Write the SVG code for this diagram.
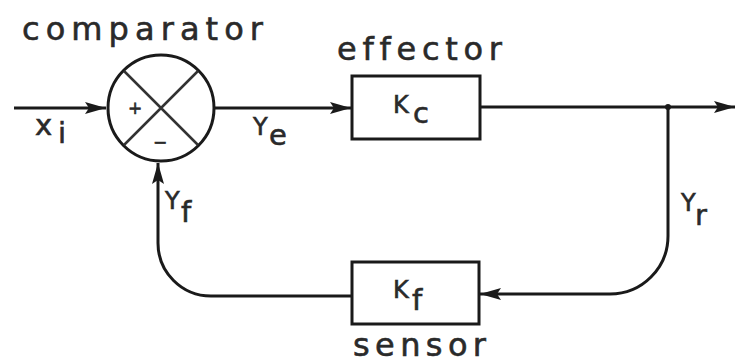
<svg xmlns="http://www.w3.org/2000/svg" width="736" height="363" viewBox="0 0 736 363">
<style>
.ln{fill:none;stroke:#1a1a1a;stroke-width:3}
.bx{fill:#fff;stroke:#1a1a1a;stroke-width:3}
.lbl{font-family:"DejaVu Sans","Liberation Sans",sans-serif;fill:#2a2a2a;stroke:#2a2a2a;stroke-width:0.6;font-variant-ligatures:none}
.big{font-size:32px}
.sym{font-size:24px}
.sub{font-size:29px}
.sign{font-size:17px}
</style>
<defs>
<marker id="ah" markerUnits="userSpaceOnUse" markerWidth="22" markerHeight="14" refX="21" refY="7" orient="auto">
<path d="M0,1 L21,7 L0,13 L4,7 Z" fill="#1a1a1a"/>
</marker>
</defs>
<rect width="736" height="363" fill="#fff"/>
<g id="connectors">
<path class="ln" d="M14,108 H106" marker-end="url(#ah)"/>
<path class="ln" d="M215,108 H351" marker-end="url(#ah)"/>
<path class="ln" d="M480,107 H735" marker-end="url(#ah)"/>
<path class="ln" d="M668,107 V236 A58,58 0 0 1 610,294 H480" marker-end="url(#ah)"/>
<path class="ln" d="M352,296 H211 A53,53 0 0 1 158,243 V163" marker-end="url(#ah)"/>
<circle cx="668" cy="107" r="3" fill="#1a1a1a"/>
</g>
<g id="comparator">
<circle cx="161" cy="108" r="53" class="bx"/>
<path d="M124,71 L198,145 M198,71 L124,145" stroke="#333" stroke-width="2.5" fill="none"/>
<text x="135" y="114" class="lbl sign" text-anchor="middle">+</text>
<text x="160" y="148" class="lbl sign" text-anchor="middle">−</text>
<text x="22" y="40" class="lbl big" textLength="241" lengthAdjust="spacing">comparator</text>
</g>
<g id="effector">
<rect x="352" y="76" width="128" height="63" class="bx"/>
<text x="393" y="113" class="lbl sym">K</text>
<text x="413" y="123" class="lbl sub">c</text>
<text x="337" y="60" class="lbl big" textLength="165" lengthAdjust="spacing">effector</text>
</g>
<g id="sensor">
<rect x="352" y="262" width="127" height="62" class="bx"/>
<text x="393" y="298" class="lbl sym">K</text>
<text x="412" y="310" class="lbl sub">f</text>
<text x="353" y="356" class="lbl big" textLength="133" lengthAdjust="spacing">sensor</text>
</g>
<g id="labels">
<text x="35" y="135" class="lbl sub">x</text>
<text x="58" y="143" class="lbl sub">i</text>
<text x="253" y="135" class="lbl sym">Y</text>
<text x="269" y="145" class="lbl sub">e</text>
<text x="165" y="209" class="lbl sym">Y</text>
<text x="181" y="222" class="lbl sub">f</text>
<text x="681" y="211" class="lbl sym">Y</text>
<text x="695" y="225" class="lbl sub">r</text>
</g>
</svg>
